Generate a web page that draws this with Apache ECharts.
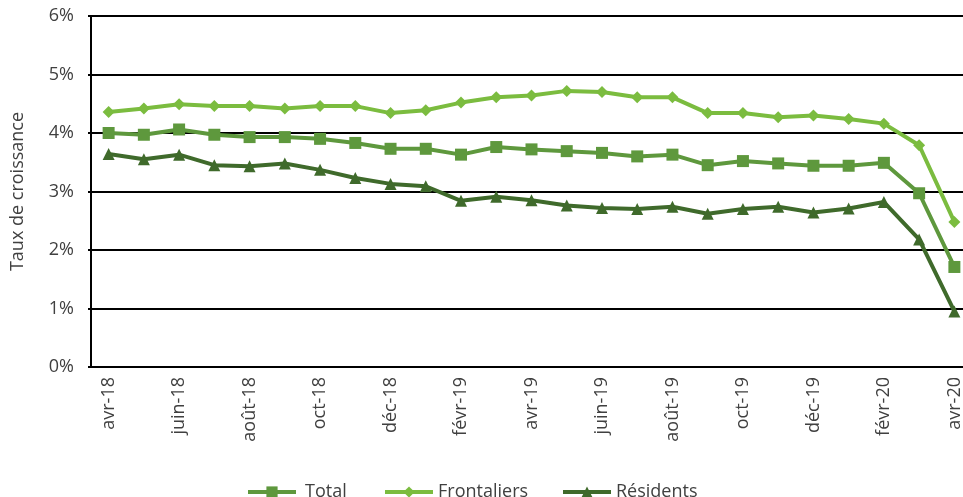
<!DOCTYPE html>
<html>
<head>
<meta charset="utf-8">
<script src="https://cdn.jsdelivr.net/npm/echarts@6/dist/echarts.min.js"></script>
<style>html,body{margin:0;padding:0;background:#fff;overflow:hidden}#c{width:985px;height:497px}</style>
</head>
<body>
<div id="c"></div>
<script>
const categories = ['avr-18','mai-18','juin-18','juil-18','août-18','sept-18','oct-18','nov-18','déc-18','janv-19','févr-19','mars-19','avr-19','mai-19','juin-19','juil-19','août-19','sept-19','oct-19','nov-19','déc-19','janv-20','févr-20','mars-20','avr-20'];
const total = [4.00, 3.97, 4.06, 3.97, 3.93, 3.93, 3.90, 3.83, 3.73, 3.73, 3.63, 3.76, 3.72, 3.69, 3.66, 3.60, 3.63, 3.45, 3.52, 3.48, 3.44, 3.44, 3.49, 2.97, 1.71];
const frontaliers = [4.36, 4.42, 4.49, 4.46, 4.46, 4.42, 4.46, 4.46, 4.34, 4.39, 4.52, 4.61, 4.64, 4.72, 4.70, 4.61, 4.61, 4.34, 4.34, 4.27, 4.30, 4.24, 4.16, 3.79, 2.48];
const residents = [3.64, 3.55, 3.63, 3.45, 3.43, 3.48, 3.37, 3.23, 3.13, 3.09, 2.84, 2.91, 2.85, 2.76, 2.72, 2.70, 2.74, 2.62, 2.70, 2.74, 2.64, 2.71, 2.82, 2.18, 0.95];
const yTicks = {min: 0, max: 6, interval: 1};

const cTotal = '#5E983D', cFront = '#7BBC3F', cRes = '#3F6A2B';
const font = 'Open Sans';
const chart = echarts.init(document.getElementById('c'), null, {renderer: 'canvas'});
function lg(name, left, extra) {
  return Object.assign({
    data: [name], left: left, top: 478, itemWidth: 48, itemHeight: 14,
    lineStyle: {width: 4},
    textStyle: {fontFamily: font, fontSize: 18, color: '#404040'}, selectedMode: false
  }, extra || {});
}
chart.setOption({
  animation: false,
  grid: {left: 91, top: 16, width: 881, height: 351},
  legend: [lg('Total', 241, {textStyle: {fontFamily: font, fontSize: 18, color: '#404040', padding: [0,0,0,4]}}), lg('Frontaliers', 378), lg('Résidents', 556)],
  xAxis: {
    type: 'category', data: categories, boundaryGap: true,
    axisLine: {lineStyle: {color: '#000', width: 2}},
    axisTick: {show: false},
    axisLabel: {interval: 1, rotate: 90, margin: 10, fontFamily: font, fontSize: 18, color: '#404040'}
  },
  yAxis: {
    type: 'value', min: yTicks.min, max: yTicks.max, interval: yTicks.interval,
    name: 'Taux de croissance', nameLocation: 'middle', nameGap: 64,
    nameTextStyle: {fontFamily: font, fontSize: 18, color: '#404040'},
    axisLine: {show: true, lineStyle: {color: '#000', width: 2}},
    axisTick: {show: true, length: 3, lineStyle: {color: '#000', width: 2}},
    splitLine: {lineStyle: {color: '#000', width: 2}},
    axisLabel: {formatter: '{value}%', margin: 17, fontFamily: font, fontSize: 18, color: '#404040'}
  },
  series: [
    {name: 'Total', type: 'line', data: total, symbol: 'rect', symbolSize: 12,
     lineStyle: {color: cTotal, width: 4}, itemStyle: {color: cTotal}},
    {name: 'Frontaliers', type: 'line', data: frontaliers, symbol: 'diamond', symbolSize: 12,
     lineStyle: {color: cFront, width: 4}, itemStyle: {color: cFront}},
    {name: 'Résidents', type: 'line', data: residents, symbol: 'triangle', symbolSize: 12,
     lineStyle: {color: cRes, width: 4}, itemStyle: {color: cRes}}
  ]
});
</script>
</body>
</html>
